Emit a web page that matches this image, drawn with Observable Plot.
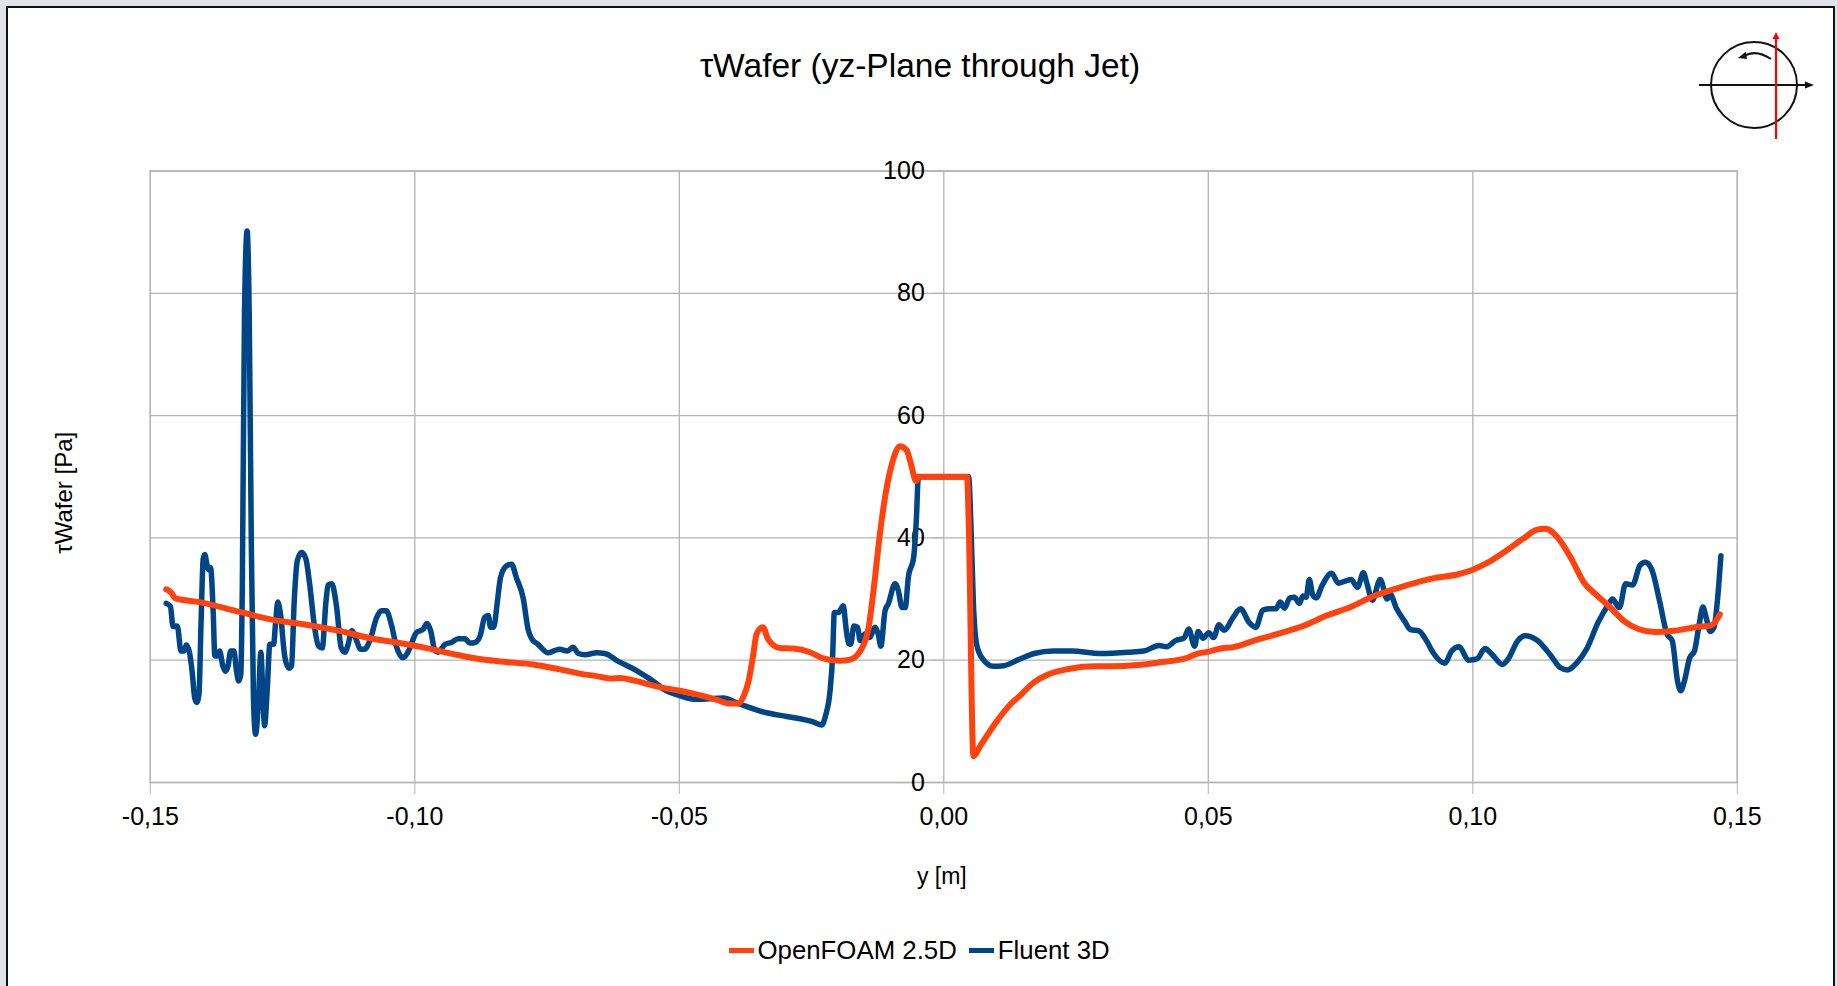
<!DOCTYPE html>
<html><head><meta charset="utf-8">
<script src="https://cdn.jsdelivr.net/npm/d3@7"></script>
<script src="https://cdn.jsdelivr.net/npm/@observablehq/plot@0.6"></script>
<style>
html,body{margin:0;padding:0;background:#e0e4e8;overflow:hidden}
#page{position:absolute;left:6px;top:6px;width:1829px;height:986px;background:#fff;border:2px solid #111;box-sizing:border-box;}
#chart{position:absolute;left:0;top:0}
.t{position:absolute;font-family:"Liberation Sans",Arial,sans-serif;color:#000;white-space:nowrap}
#title{left:920px;top:47px;font-size:33.5px;transform:translateX(-50%)}
#legend{top:936px;left:729px;font-size:25.8px;display:flex;align-items:center}
.sw{display:inline-block;width:24.5px;height:5px;margin-right:4px}
</style></head><body>
<div id="page"></div>
<div id="chart"></div>
<div id="title" class="t">τWafer (yz-Plane through Jet)</div>
<div id="legend" class="t"><span class="sw" style="background:#ff420e"></span><span style="margin-right:12.5px">OpenFOAM 2.5D</span><span class="sw" style="background:#004586"></span><span>Fluent 3D</span></div>
<svg id="icon" style="position:absolute;left:1695px;top:25px" width="125" height="120" viewBox="0 0 125 120">
<circle cx="59" cy="60" r="43" fill="none" stroke="#111" stroke-width="2"/>
<line x1="4" y1="60" x2="111" y2="60" stroke="#111" stroke-width="2"/>
<path d="M110 56.5 L119 60 L110 63.5Z" fill="#111"/>
<path d="M76 34 Q61 24 49 31" fill="none" stroke="#111" stroke-width="2"/>
<path d="M43 33 L51 26.5 L52 34Z" fill="#111"/>
<line x1="81" y1="13" x2="81" y2="114" stroke="#f00" stroke-width="2.2"/>
<path d="M77.5 14 L81 7 L84.5 14Z" fill="#f00"/>
</svg>
<script>
const xTicks=[-0.15,-0.10,-0.05,0,0.05,0.10,0.15];
const yTicks=[0,20,40,60,80,100];
const fluentY=[-147.0,-146.2,-145.7,-144.9,-144.2,-143.6,-143.2,-142.6,-142.1,-141.6,-141.2,-140.8,-140.4,-140.0,-139.7,-139.3,-139.0,-138.6,-138.1,-137.8,-137.2,-136.9,-136.3,-135.8,-135.3,-134.8,-134.2,-133.7,-133.3,-132.9,-132.6,-132.2,-131.7,-131.3,-130.9,-130.5,-130.1,-129.6,-129.1,-128.7,-128.4,-127.9,-127.4,-126.7,-126.3,-125.9,-125.4,-124.6,-123.8,-123.3,-122.8,-122.2,-121.4,-120.6,-119.9,-118.9,-118.2,-117.5,-116.8,-116.4,-115.7,-114.8,-113.9,-113.2,-112.6,-111.9,-111.0,-110.3,-109.5,-108.5,-107.2,-106.3,-105.4,-104.4,-103.5,-102.2,-101.3,-99.7,-98.4,-97.7,-97.0,-96.2,-95.6,-94.3,-93.1,-91.8,-90.5,-89.6,-88.6,-87.6,-86.8,-86.1,-85.7,-85.1,-84.4,-83.8,-82.7,-81.7,-80.8,-79.5,-78.6,-77.9,-76.7,-74.8,-73.5,-72.6,-71.2,-70.1,-69.1,-67.8,-65.6,-64.1,-61.5,-58.1,-55.5,-52.4,-49.9,-46.7,-41.7,-38.5,-33.5,-29.7,-24.7,-23.1,-22.3,-21.5,-21.0,-20.7,-19.9,-19.0,-18.5,-18.0,-17.6,-17.0,-16.3,-15.8,-14.9,-14.0,-13.0,-12.4,-11.9,-11.1,-10.5,-9.2,-8.6,-7.9,-7.3,-6.7,-5.7,-5.2,-4.8,4.7,5.1,5.6,6.2,7.2,9.4,11.3,14.4,17.1,20.7,24.2,29.6,34.9,37.8,40.7,42.1,43.8,45.4,46.3,47.4,48.1,49.0,50.1,51,52,53,54.7,56.1,57.7,59,60.3,61.7,62.8,63.6,64.4,65.4,66.3,67.2,67.9,68.5,69.1,69.7,70.4,71.5,73.3,74.6,77,78.2,79.3,80,81,82.5,83.8,84.4,85.5,87.1,88.2,89.8,91.1,92.6,94.7,96,97.4,99.2,100.8,102.3,103.6,105.6,106.7,108.5,110,112.1,114.8,116.5,117.9,119.7,121.5,123.7,125.5,126.4,127.7,128.9,130.2,131.6,132.6,133.8,135.3,136.7,137.7,138.7,139.3,140,141,141.9,142.8,143.5,144.1,144.9,145.6,146.3,146.9];
const fluentTau=[29.3,28.8,25.5,25.6,21.5,21.5,22.5,21.3,18.2,13.8,13.1,14.4,26.3,36.6,37.3,35.7,34.8,35.1,27.6,20.7,20.7,21.5,19.1,18.2,19.1,21.5,21.5,18.2,16.6,17.6,32.6,76.4,90.2,76.4,38.8,13.8,7.9,12.6,21.3,13.8,9.3,15.1,22.6,22.6,26.3,29.5,27.6,20.7,18.7,19.1,29.5,36.3,37.6,36.6,32.6,25.1,22.3,22,29.5,32.3,32.5,28.8,22,21.3,22.6,24.8,23.2,21.8,21.8,23.2,27,28.1,28.1,25.7,22.3,20.4,21.3,24.5,25.1,26,24.8,21.6,21.3,22.6,22.9,23.5,23.5,22.8,22.9,24.1,27,27.3,25.4,25.4,29.5,33.5,35.4,35.7,33.5,30.1,25.1,23.5,22.6,21.2,21.6,21.8,21.5,22.1,21.1,20.9,21.2,21.1,19.8,18.3,16.9,15,14.2,13.6,13.8,12.8,11.4,10.8,9.9,9.4,11.1,15,21,27.8,27.8,28.9,25.4,22.7,22.6,25.6,25.4,23.2,24.3,23.7,25.4,24.3,22.3,28.1,29.2,32.5,31.4,28.6,28.6,33.6,36.8,42.8,50,50,42.8,29.2,22.6,20.4,19,19.1,20.2,21.1,21.5,21.5,21.1,21.3,21.5,22.4,22.2,23.2,23.6,25.1,22.3,24.7,23.6,24.5,23.7,25.8,24.9,27,28.4,26.2,25.4,28.2,28.4,28.4,29.5,28.5,30.2,30.3,29.3,30.5,30.3,33.2,30.8,30.2,32.2,34.2,32.6,33.2,31.9,34.3,32.5,29.8,33.2,30,30.8,28.6,26.4,25,24.8,23.4,21.1,19.5,21.5,22.2,20,20.2,21.9,21,19.3,20.2,23.2,24,23.3,20.7,18.8,18.4,19.6,21.8,26.2,28.9,30,28.6,32.5,32.3,35.5,36,34.9,29.7,24.3,23.2,16.6,15,16.6,20.4,21.5,25.9,28.7,27,24.7,25.4,30.3,37.1];
const foamY=[-147,-146.2,-145.2,-140.7,-133.1,-126.8,-120.5,-114.2,-107.9,-103.5,-98.4,-92.1,-87.1,-82.7,-77.6,-72.6,-68.8,-65.6,-62.8,-61.2,-58.7,-53.7,-49.9,-46.7,-42.9,-40.4,-38.8,-37.8,-36.9,-36,-35.4,-34.2,-33.2,-31,-28.4,-25.3,-22.8,-19.6,-17.7,-15.8,-14.2,-13.3,-12,-11.1,-9.8,-8.3,-7,-6.4,-5.2,-4.8,4.4,4.7,5.6,6.9,10,12.6,14.4,17.1,19.8,23.8,28.7,31.4,36.7,41.2,45.7,48.1,50.1,52.8,54.5,59,63.5,67.9,72.4,76.9,81.3,85.8,92,97.4,100,102.7,106.3,109.9,112,113.8,116,118.8,121,123.2,125.9,128.6,131.3,134.4,138,142,145.1,146.7];
const foamTau=[31.6,31.2,30.1,29.5,27.9,26.6,25.8,24.8,23.5,22.9,22.1,20.9,20.1,19.7,19.3,18.5,17.8,17.4,17,17.1,16.7,15.6,15,14.4,13.5,12.9,12.9,14.2,16.6,21,24.3,25.4,23.4,22,21.9,21.3,20.3,19.9,20.1,21.5,25.4,31.3,41.2,46.7,52.1,55,54.3,52.7,49.3,50,50,42.8,4.3,6,10,12.8,14.2,16.4,17.7,18.6,19,19,19.2,19.7,20.3,21.1,21.4,22,22.1,23.3,24.4,25.6,27.3,28.7,30.5,31.8,33.3,34.1,34.8,35.9,37.9,40.1,41.3,41.5,40.1,36.3,32.7,30.8,28.7,26.4,25.1,24.6,24.8,25.4,25.7,27.5];
const fluent=fluentY.map((y,i)=>({y:y/1000,tau:fluentTau[i]}));
const foam=foamY.map((y,i)=>({y:y/1000,tau:foamTau[i]}));
const fmtX=d=>d3.format(".2f")(d).replace("−","-").replace(".",",");
const grid="#b3b3b3";
const plot=Plot.plot({
  width:1837,height:986,
  marginLeft:149.8,marginRight:100.2,marginTop:170.5,marginBottom:204,
  style:{fontFamily:'"Liberation Sans",Arial,sans-serif',background:"transparent",overflow:"visible",color:"#000"},
  x:{domain:[-0.15,0.15]},
  y:{domain:[0,100]},
  marks:[
    Plot.gridX(xTicks,{stroke:grid,strokeOpacity:1,strokeWidth:1.3}),
    Plot.gridY(yTicks,{stroke:grid,strokeOpacity:1,strokeWidth:1.3}),
    Plot.frame({stroke:grid,strokeWidth:1.3}),
    Plot.axisX({ticks:xTicks,tickFormat:fmtX,tickSize:12,stroke:grid,tickPadding:13,fontSize:25,label:null,color:"#000"}),
    Plot.axisY({x:0,anchor:"left",ticks:yTicks,tickSize:11,stroke:grid,tickPadding:8,fontSize:25,label:null,color:"#000"}),
    Plot.text(["τWafer [Pa]"],{frameAnchor:"left",textAnchor:"middle",dx:-86,dy:16,rotate:-90,fontSize:24,fill:"#000"}),
    Plot.text(["y [m]"],{frameAnchor:"bottom",textAnchor:"middle",dy:101,dx:-2,fontSize:23,fill:"#000"}),
    Plot.line(fluent,{x:"y",y:"tau",stroke:"#004586",strokeWidth:5.5,curve:"monotone-x",strokeLinejoin:"round"}),
    Plot.line(foam,{x:"y",y:"tau",stroke:"#ff420e",strokeWidth:6,curve:"monotone-x",strokeLinejoin:"round"})
  ]
});
document.getElementById("chart").appendChild(plot);
</script></body></html>
